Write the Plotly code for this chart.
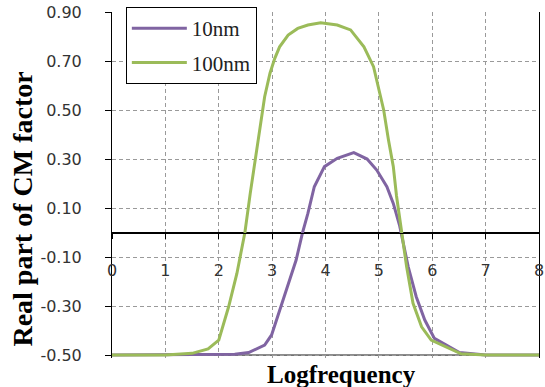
import plotly.graph_objects as go

# ---- data ----
series_names = ["10nm", "100nm"]

x_10nm = [0.0, 1.0, 2.0, 2.3, 2.56, 2.86, 2.99, 3.14, 3.30, 3.45, 3.57, 3.67, 3.79, 3.98,
          4.22, 4.53, 4.78, 4.96, 5.15, 5.27, 5.39, 5.55, 5.70, 5.86, 6.04, 6.32, 6.51, 7.0, 8.0]
y_10nm = [-0.5, -0.5, -0.5, -0.497, -0.49, -0.459, -0.418, -0.316, -0.207, -0.112, 0.0, 0.078,
          0.187, 0.269, 0.303, 0.326, 0.300, 0.255, 0.187, 0.119, 0.027, -0.14, -0.262, -0.357,
          -0.432, -0.466, -0.49, -0.5, -0.5]

x_100nm = [0.0, 1.0, 1.5, 1.8, 2.0, 2.185, 2.34, 2.49, 2.59, 2.68, 2.77, 2.86, 2.96, 3.05, 3.14,
           3.30, 3.48, 3.67, 3.91, 4.22, 4.47, 4.72, 4.90, 4.99, 5.09, 5.18, 5.27, 5.33, 5.43,
           5.52, 5.64, 5.80, 5.98, 6.26, 6.54, 7.0, 8.0]
y_100nm = [-0.5, -0.5, -0.493, -0.475, -0.439, -0.303, -0.167, 0.0, 0.16, 0.296, 0.432, 0.554,
           0.65, 0.711, 0.758, 0.806, 0.833, 0.847, 0.856, 0.847, 0.827, 0.758, 0.677, 0.595,
           0.50, 0.378, 0.27, 0.15, 0.0, -0.14, -0.289, -0.385, -0.439, -0.466, -0.495, -0.5, -0.5]

x_ticks = [0, 1, 2, 3, 4, 5, 6, 7, 8]
y_ticks = [-0.5, -0.3, -0.1, 0.1, 0.3, 0.5, 0.7, 0.9]
x_title = "Logfrequency"
y_title = "Real part of CM factor"

colors = ["#8064A2", "#9BBB59"]

fig = go.Figure()
for name, xs, ys, c, grp in [(series_names[0], x_10nm, y_10nm, colors[0], "a"),
                             (series_names[1], x_100nm, y_100nm, colors[1], "b")]:
    fig.add_trace(go.Scatter(x=xs, y=ys, mode="lines", name=name, legendgroup=grp,
                             line=dict(color=c, width=3)))

grid = dict(showgrid=True, gridcolor="#9a9a9a", gridwidth=1, griddash="4px,3px")
tickfont = dict(family="DejaVu Sans", size=16, color="#333333")

fig.update_layout(
    width=545, height=387,
    margin=dict(l=112, r=1, t=12, b=29, pad=0),
    paper_bgcolor="white", plot_bgcolor="white",
    xaxis=dict(range=[0, 8], tickmode="array", tickvals=x_ticks,
               ticktext=[str(v) for v in x_ticks], zeroline=False,
               showline=True, linecolor="black", linewidth=1,
               ticks="outside", ticklen=5, tickcolor="black",
               anchor="free", position=0.512 / 1.412, ticklabelstandoff=18,
               ticklabeloverflow="allow", tickfont=tickfont, **grid),
    yaxis=dict(range=[-0.512, 0.9], tickmode="array", tickvals=y_ticks,
               ticktext=[f"{v:.2f}" for v in y_ticks],
               zeroline=True, zerolinecolor="black", zerolinewidth=1,
               showline=True, linecolor="black", linewidth=1, mirror=True,
               ticks="outside", ticklen=6, tickcolor="black",
               ticklabelstandoff=20, ticklabeloverflow="allow", tickfont=tickfont, **grid),
    showlegend=True,
    legend=dict(x=(126 - 112) / 432, y=1 + 5 / 346, xanchor="left", yanchor="top",
                bgcolor="white", bordercolor="black", borderwidth=1,
                font=dict(family="Liberation Serif", size=21, color="#222222"),
                traceorder="grouped", tracegroupgap=4, itemwidth=55),
    shapes=[dict(type="line", xref="paper", yref="y", x0=0, x1=1, y0=-0.5, y1=-0.5,
                 line=dict(color="black", width=1), layer="below")],
    annotations=[
        dict(text="<b>" + x_title + "</b>", xref="paper", yref="paper", x=(344 - 112) / 432,
             y=-(371 - 355) / 346, xanchor="center", yanchor="middle", showarrow=False,
             font=dict(family="Liberation Serif", size=25, color="black")),
        dict(text="<b>" + y_title + "</b>", xref="paper", yref="paper", x=(21 - 112) / 432,
             y=(355 - 206.5) / 346, xanchor="center", yanchor="middle", showarrow=False,
             font=dict(family="Liberation Serif", size=28, color="black"), textangle=-90),
    ],
)

# remove the default 8px page margin so the figure fills the window exactly
fig.write_html("out.html", config={"displayModeBar": False},
               post_script="document.body.style.margin='0';")
